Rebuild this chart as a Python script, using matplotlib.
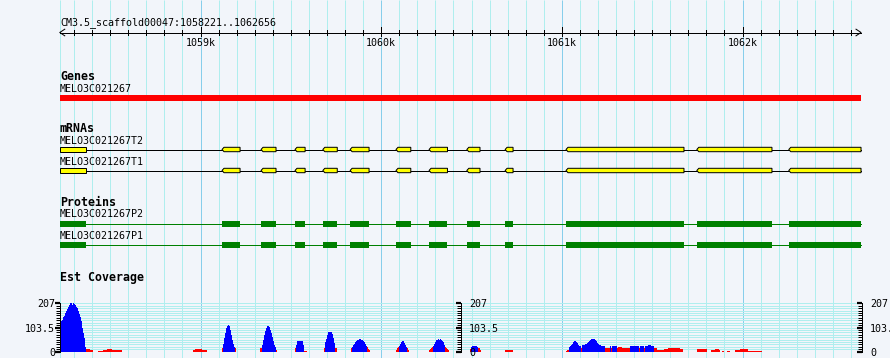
import numpy as np
import matplotlib
matplotlib.use('Agg')
import matplotlib.pyplot as plt
from matplotlib.patches import Polygon, Rectangle

# ---- data (bp coordinates) ----
ref_name = 'CM3.5_scaffold00047'
region_start, region_end = 1058221, 1062656
gene_name = 'MELO3C021267'
mrna_names = ['MELO3C021267T2', 'MELO3C021267T1']
protein_names = ['MELO3C021267P2', 'MELO3C021267P1']

exon_starts = [1058221, 1059119, 1059335, 1059523, 1059677, 1059828, 1060082,
               1060265, 1060474, 1060686, 1061023, 1061747, 1062256]
exon_ends = [1058366, 1059219, 1059418, 1059579, 1059757, 1059933, 1060164,
             1060367, 1060547, 1060730, 1061676, 1062163, 1062656]

cov_max = 207
cov_pivot = 20
cov_bin = 5.535   # bp per bin
cov_starts = [1058222, 1058433, 1058959, 1059119, 1059330, 1059523, 1059684,
              1059833, 1060082, 1060265, 1060492, 1060685, 1061023, 1061748,
              1061826, 1061887, 1061914, 1061959]
cov_values = [
    [118, 130, 137, 147, 153, 164, 173, 183, 191, 199, 207, 207, 199, 207, 204,
     199, 193, 187, 173, 161, 147, 130, 101, 80, 58, 22, 13, 13, 13, 13, 6, 6, 6],
    [4, 4, 4, 4, 4, 8, 8, 8, 8, 12, 12, 12, 12, 12, 6, 6, 6, 6, 6, 6, 6, 6, 6, 6],
    [6, 8, 10, 10, 10, 10, 10, 10, 10, 8, 8, 6, 6, 6],
    [14, 35, 60, 82, 100, 112, 115, 108, 93, 72, 52, 33, 22, 14],
    [14, 14, 30, 50, 70, 88, 100, 108, 110, 105, 92, 78, 62, 45, 30, 22, 9],
    [17, 30, 44, 46, 46, 46, 46, 44, 30, 4, 4, 4],
    [17, 43, 55, 70, 86, 86, 86, 86, 75, 60, 36, 17, 17],
    [14, 22, 28, 34, 40, 45, 49, 52, 54, 54, 52, 49, 45, 40, 34, 26, 18, 12, 6],
    [8, 14, 18, 26, 34, 42, 46, 44, 38, 30, 22, 14, 8],
    [6, 10, 14, 18, 26, 34, 42, 48, 52, 54, 52, 54, 50, 46, 40, 30, 18, 14, 10, 6],
    [11, 22, 26, 26, 26, 26, 24, 22, 14, 14, 8],
    [6, 6, 6, 6, 6, 6, 6, 6],
    [4, 7, 7, 21, 26, 30, 35, 40, 44, 46, 41, 36, 30, 26, 24, 15, 28, 28, 30, 33,
     35, 38, 41, 44, 49, 54, 56, 56, 53, 49, 44, 38, 33, 30, 27, 25, 24, 24, 24,
     17, 17, 17, 17, 17, 23, 15, 23, 26, 26, 26, 26, 15, 18, 18, 18, 18,
     14, 14, 14, 14, 14, 14, 14, 14, 26, 26, 26, 26, 26, 26, 26, 26, 26, 15,
     24, 24, 24, 24, 15, 24, 24, 24, 28, 28, 28, 24, 24, 24, 17, 17, 17,
     7, 7, 7, 7, 7, 7, 7, 10, 10, 10, 10, 14, 14, 14,
     17, 17, 17, 17, 17, 17, 17, 17, 17, 10, 10, 10],
    [10, 10, 10, 13, 13, 13, 13, 10, 10, 10],
    [8, 8, 8, 8, 11, 11, 11, 11, 8],
    [4, 4],
    [4, 4, 4],
    [7, 7, 7, 7, 7, 11, 11, 11, 11, 11, 11, 11, 11, 4, 4, 4, 4, 4, 4, 4, 4, 4,
     4, 4, 4, 4, 4],
]

# ---- layout ----
W, H = 890, 358
BP_PX = 5.535
X0 = 1059000 - 200.5 * BP_PX
X1 = X0 + W * BP_PX
LW = 0.72  # 1 pixel

bg = '#f2f5fa'
grid_minor = '#afeeee'
grid_major = '#87ceeb'
mono = 'DejaVu Sans Mono'


def px(c):
    return X0 + c * BP_PX


fig = plt.figure(figsize=(W / 100, H / 100), dpi=100)
fig.patch.set_facecolor(bg)
ax = fig.add_axes([0, 0, 1, 1])
ax.set_xlim(X0, X1)
ax.set_ylim(H, 0)
ax.axis('off')

# vertical grid
ax.vlines(region_start, 0, H, color=grid_minor, lw=LW, zorder=0)
for pos in np.arange(1058300, region_end, 100):
    c = grid_major if pos % 1000 == 0 else grid_minor
    ax.vlines(pos, 0, H, color=c, lw=LW, zorder=0)

# ruler
ax.text(px(60), 25, f'{ref_name}:{region_start}..{region_end}', family=mono,
        fontsize=7.2, va='baseline', ha='left')
ax.plot([region_start, region_end], [32.5, 32.5], color='black', lw=LW)
ax.plot([region_start + 5 * BP_PX, region_start, region_start + 5 * BP_PX],
        [29.2, 32.5, 35.8], color='black', lw=LW)
ax.plot([region_end - 5 * BP_PX, region_end, region_end - 5 * BP_PX],
        [29.2, 32.5, 35.8], color='black', lw=LW)
for pos in np.arange(1058300, region_end, 100):
    if pos % 1000 == 0:
        ax.plot([pos, pos], [27, 36], color='black', lw=LW)
        ax.text(pos, 46, f'{pos // 1000}k', family=mono, fontsize=7.2,
                ha='center', va='baseline')
    else:
        ax.plot([pos, pos], [30, 35], color='black', lw=LW)

# Genes track
ax.text(px(60), 80, 'Genes', family=mono, fontweight='bold', fontsize=8.4,
        va='baseline')
ax.text(px(60), 92, gene_name, family=mono, fontsize=7.2, va='baseline')
ax.add_patch(Rectangle((region_start, 95), region_end - region_start, 6,
                       facecolor='#ff0000', edgecolor='none'))

# mRNAs track
ax.text(px(60), 131.5, 'mRNAs', family=mono, fontweight='bold', fontsize=8.4,
        va='baseline')
taper = 2 * BP_PX
for name, yl, base in zip(mrna_names, [149.5, 170.5], [144, 165.3]):
    ax.text(px(60), base, name, family=mono, fontsize=7.2, va='baseline')
    ax.plot([region_start, region_end], [yl, yl], color='black', lw=LW, zorder=2)
    for i, (s, e) in enumerate(zip(exon_starts, exon_ends)):
        top, bot = yl - 2.2, yl + 2.2
        if i == 0:
            pts = [(s, top), (e, top), (e, bot), (s, bot)]
        else:
            pts = [(s, yl), (s + taper, top), (e, top), (e, bot), (s + taper, bot)]
        ax.add_patch(Polygon(pts, closed=True, facecolor='#ffff00',
                             edgecolor='black', lw=LW, zorder=3))

# Proteins track
ax.text(px(60), 206, 'Proteins', family=mono, fontweight='bold', fontsize=8.4,
        va='baseline')
for name, yl, base in zip(protein_names, [223.5, 244.5], [217.3, 238.7]):
    ax.text(px(60), base, name, family=mono, fontsize=7.2, va='baseline')
    ax.plot([region_start, region_end], [yl, yl], color='#008000', lw=LW, zorder=2)
    for s, e in zip(exon_starts, exon_ends):
        ax.add_patch(Rectangle((s, yl - 2.5), e - s, 6, facecolor='#008000',
                               edgecolor='none', zorder=3))

# Est Coverage track
ax.text(px(60), 280.5, 'Est Coverage', family=mono, fontweight='bold',
        fontsize=8.4, va='baseline')

cov_bottom = (H - 351.7) / H
cov_height = 48.4 / H
cax = fig.add_axes([0, cov_bottom, 1, cov_height])
cax.set_xlim(X0, X1)
cax.set_ylim(0, cov_max)
cax.axis('off')
cax.patch.set_alpha(0)
levels = np.linspace(0, cov_max, 21)
cax.hlines(levels, region_start, region_end, color=grid_minor, lw=LW, zorder=0)
for start, vals in zip(cov_starts, cov_values):
    vals = np.array(vals)
    lefts = start + np.arange(len(vals)) * cov_bin
    cols = np.where(vals > cov_pivot, '#0000ff', '#ff0000')
    cax.bar(lefts, vals, width=cov_bin, align='edge', color=cols, lw=0,
            antialiased=False, zorder=2)

# coverage scales
for xc, side in [(60.5, 'left'), (461, 'right'), (862, 'right')]:
    sax = fig.add_axes([xc / W, cov_bottom, 1e-4, cov_height])
    sax.patch.set_alpha(0)
    sax.set_ylim(0, cov_max)
    sax.xaxis.set_visible(False)
    for sp in ['top', 'bottom', 'right']:
        sax.spines[sp].set_visible(False)
    sax.spines['left'].set_linewidth(LW)
    sax.set_yticks([0, cov_max / 2, cov_max], ['0', '103.5', '207'])
    sax.set_yticks(levels, minor=True)
    sax.tick_params(which='major', length=3.5, width=1.6, pad=0.5 if side == 'left' else 2.2,
                    labelsize=7.2, left=True, right=False,
                    labelleft=(side == 'left'), labelright=(side == 'right'))
    sax.tick_params(which='minor', length=2.6, width=LW, left=True, right=False)
    for lab in sax.get_yticklabels():
        lab.set_family(mono)

fig.savefig('out.png', dpi=100, facecolor=bg)
